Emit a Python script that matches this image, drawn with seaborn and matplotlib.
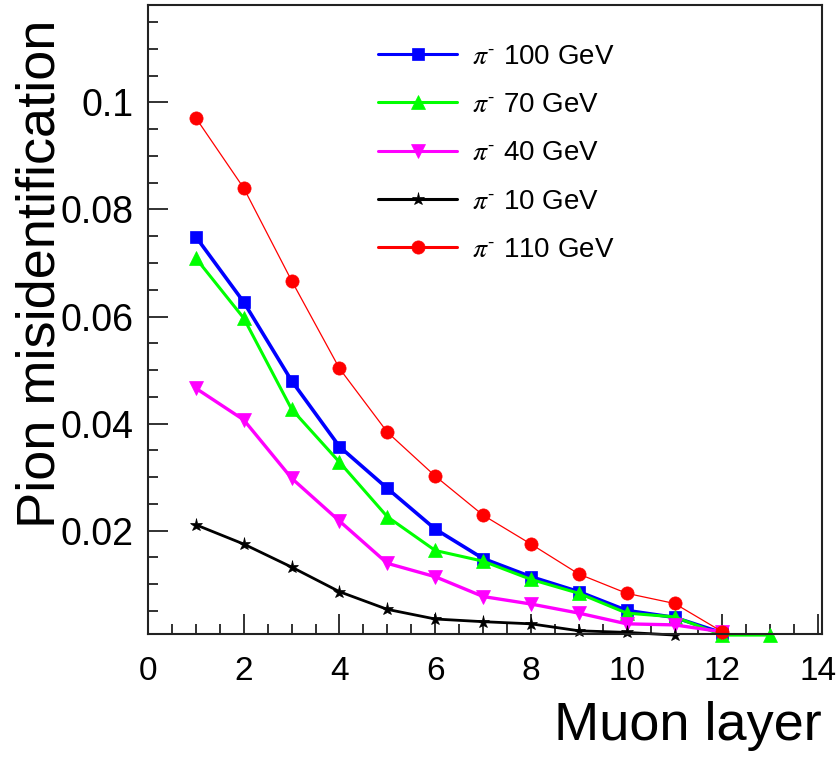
import matplotlib
matplotlib.use("Agg")
import matplotlib.pyplot as plt
import seaborn as sns
import pandas as pd
from matplotlib.ticker import MultipleLocator, FixedLocator, FixedFormatter

# ---------------- data ----------------
layers_100 = [1, 2, 3, 4, 5, 6, 7, 8, 9, 10, 11, 12]
mis_100 = [0.0749, 0.0627, 0.0480, 0.0357, 0.0279, 0.0203, 0.0148, 0.0114, 0.0086, 0.0051, 0.0038, 0.0009]

layers_70 = [1, 2, 3, 4, 5, 6, 7, 8, 9, 10, 11, 12, 13]
mis_70 = [0.0709, 0.0597, 0.0427, 0.0328, 0.0226, 0.0163, 0.0143, 0.0109, 0.0083, 0.0046, 0.0039, 0.0005, 0.0005]

layers_40 = [1, 2, 3, 4, 5, 6, 7, 8, 9, 10, 11, 12]
mis_40 = [0.0466, 0.0407, 0.0298, 0.0218, 0.0139, 0.0114, 0.0077, 0.0063, 0.0046, 0.0026, 0.0024, 0.0011]

layers_10 = [1, 2, 3, 4, 5, 6, 7, 8, 9, 10, 11]
mis_10 = [0.0211, 0.0175, 0.0132, 0.0086, 0.0053, 0.0035, 0.0030, 0.0026, 0.0013, 0.0010, 0.0005]

layers_110 = [1, 2, 3, 4, 5, 6, 7, 8, 9, 10, 11, 12]
mis_110 = [0.0971, 0.0840, 0.0667, 0.0503, 0.0384, 0.0302, 0.0229, 0.0175, 0.0119, 0.0083, 0.0064, 0.0011]

series_labels = [r"$\pi^{\mathrm{\text{-}}}$ 100 GeV", r"$\pi^{\mathrm{\text{-}}}$ 70 GeV",
                 r"$\pi^{\mathrm{\text{-}}}$ 40 GeV", r"$\pi^{\mathrm{\text{-}}}$ 10 GeV",
                 r"$\pi^{\mathrm{\text{-}}}$ 110 GeV"]
x_ticks = [0, 2, 4, 6, 8, 10, 12, 14]
x_tick_labels = ["0", "2", "4", "6", "8", "10", "12", "14"]
y_ticks = [0.02, 0.04, 0.06, 0.08, 0.1]
y_tick_labels = ["0.02", "0.04", "0.06", "0.08", "0.1"]

# ---------------- style ----------------
sns.set_theme(style="ticks")
plt.rcParams["font.family"] = ["Liberation Sans", "DejaVu Sans"]
plt.rcParams["mathtext.fontset"] = "stix"
for k in ["text.color", "axes.labelcolor", "xtick.color", "ytick.color"]:
    plt.rcParams[k] = "black"

fig = plt.figure(figsize=(8.38, 7.57), dpi=100)
W, H = 838, 757
ax = fig.add_axes([148 / W, 1 - 634 / H, 674 / W, 629 / H])

styles = [
    dict(color="#0000ff", marker="s", lw=2.6, ms=9.0),
    dict(color="#00ff00", marker="^", lw=2.2, ms=10.0),
    dict(color="#ff00ff", marker="v", lw=2.4, ms=10.0),
    dict(color="#000000", marker="*", lw=2.0, ms=9.5),
    dict(color="#ff0000", marker="o", lw=0.9, ms=9.5),
]
xs = [layers_100, layers_70, layers_40, layers_10, layers_110]
ys = [mis_100, mis_70, mis_40, mis_10, mis_110]

for x, y, lab, st in zip(xs, ys, series_labels, styles):
    df = pd.DataFrame({"layer": x, "mis": y})
    sns.lineplot(data=df, x="layer", y="mis", ax=ax, color=st["color"],
                 marker=st["marker"], markersize=st["ms"], linewidth=st["lw"],
                 markeredgecolor=st["color"], markeredgewidth=0.5,
                 label=lab, clip_on=False)

ax.set_xlim(0, 14.08)
ax.set_ylim(0.0007, 0.1182)

ax.xaxis.set_major_locator(FixedLocator(x_ticks))
ax.xaxis.set_major_formatter(FixedFormatter(x_tick_labels))
ax.xaxis.set_minor_locator(MultipleLocator(0.5))
ax.yaxis.set_major_locator(FixedLocator(y_ticks))
ax.yaxis.set_major_formatter(FixedFormatter(y_tick_labels))
ax.yaxis.set_minor_locator(MultipleLocator(0.005))

ax.tick_params(which="both", direction="in", top=False, right=False, color="#222222", width=1.3)
ax.tick_params(which="major", length=14.4)
ax.tick_params(which="minor", length=7.2)
ax.tick_params(axis="x", which="major", labelsize=24, pad=16)
ax.tick_params(axis="y", which="major", labelsize=27, pad=10.5)

for sp in ax.spines.values():
    sp.set_linewidth(1.5)
    sp.set_color("#222222")

ax.set_xlabel("Muon layer", fontsize=39, loc="right")
ax.xaxis.label.set_va("baseline")
ax.xaxis.set_label_coords(1.0, (634 - 740) / 629)

ax.set_ylabel("Pion misidentification", fontsize=39, loc="top")
ax.yaxis.set_label_coords((66 - 148) / 674, (634 - 20) / 629)

leg = ax.legend(loc="upper left", bbox_to_anchor=(378 / W, 1 - 44 / H),
                bbox_transform=fig.transFigure, frameon=False, fontsize=20,
                borderpad=0, borderaxespad=0, handlelength=2.85,
                handletextpad=0.55, labelspacing=0.80)
for ln in leg.get_lines():
    ln.set_linewidth(2.2)

fig.savefig("out.png", dpi=100)
